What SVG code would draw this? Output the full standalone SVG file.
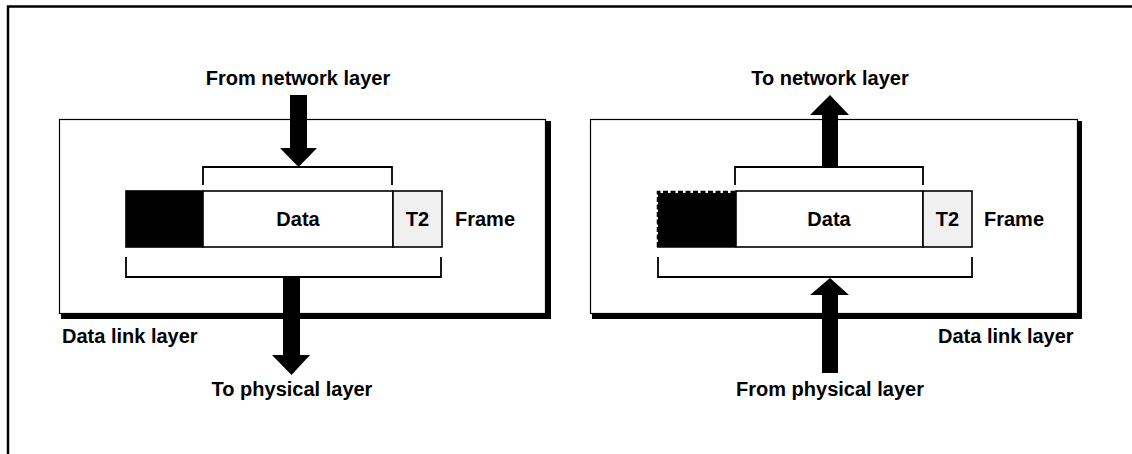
<svg xmlns="http://www.w3.org/2000/svg" width="1132" height="454" viewBox="0 0 1132 454">
<style>
.t{font-family:"Liberation Sans",Arial,sans-serif;font-weight:700;font-size:20px;fill:#000}
.c{text-anchor:middle}
.box{fill:#fff;stroke:#000;stroke-width:1.2}
.shadow{fill:#000}
.cell{stroke:#000;stroke-width:1.6}
.br{fill:none;stroke:#000;stroke-width:1.8}
.arrow{fill:#000}
</style>
<rect x="0" y="0" width="1132" height="454" fill="#fff"/>
<path d="M8,454 V6.5 H1132" fill="none" stroke="#000" stroke-width="2.5"/>

<g id="sender">
  <rect class="shadow" x="61" y="121" width="490" height="198"/>
  <rect class="box" x="59.5" y="119.5" width="486" height="194"/>
  <text class="t" x="62" y="343">Data link layer</text>
</g>
<g id="sender-frame">
  <rect class="cell" x="126" y="191" width="77" height="56" fill="#000"/>
  <rect class="cell" x="203" y="191" width="190" height="56" fill="#fff"/>
  <rect class="cell" x="393" y="191" width="49" height="56" fill="#f0f0f0"/>
  <text class="t c" x="298" y="226">Data</text>
  <text class="t c" x="417.5" y="226">T2</text>
  <text class="t" x="455" y="226">Frame</text>
  <path class="br" d="M203,185 V167 H392 V185"/>
  <path class="br" d="M126,257 V277 H441 V257"/>
</g>
<g id="sender-labels">
  <text class="t c" x="298" y="85">From network layer</text>
  <text class="t c" x="292" y="396">To physical layer</text>
</g>

<g id="receiver">
  <rect class="shadow" x="592" y="121" width="490" height="198"/>
  <rect class="box" x="590.5" y="119.5" width="487" height="194"/>
  <text class="t" x="938" y="343">Data link layer</text>
</g>
<g id="receiver-frame">
  <rect x="658" y="193" width="78" height="54" fill="#000"/>
  <path d="M658,247 V192 H736" fill="none" stroke="#000" stroke-width="2.5" stroke-dasharray="5 2.5"/>
  <line class="cell" x1="657" y1="247" x2="736" y2="247"/>
  <rect class="cell" x="736" y="191" width="187" height="56" fill="#fff"/>
  <rect class="cell" x="923" y="191" width="49" height="56" fill="#f0f0f0"/>
  <text class="t c" x="829" y="226">Data</text>
  <text class="t c" x="947.5" y="226">T2</text>
  <text class="t" x="984" y="226">Frame</text>
  <path class="br" d="M735,185 V167 H923 V185"/>
  <path class="br" d="M658,257 V277 H972 V257"/>
</g>
<g id="receiver-labels">
  <text class="t c" x="830" y="85">To network layer</text>
  <text class="t c" x="830" y="396">From physical layer</text>
</g>

<g id="connectors">
  <polygon class="arrow" points="290,95 307,95 307,148 317,148 298.5,167 280,148 290,148"/>
  <polygon class="arrow" points="283,277 300,277 300,355 310,355 291.5,375 272,355 283,355"/>
  <polygon class="arrow" points="830,95 849,115 838,115 838,167 822,167 822,115 810,115"/>
  <polygon class="arrow" points="830,278 849,295 838,295 838,373 822,373 822,295 810,295"/>
</g>
</svg>
